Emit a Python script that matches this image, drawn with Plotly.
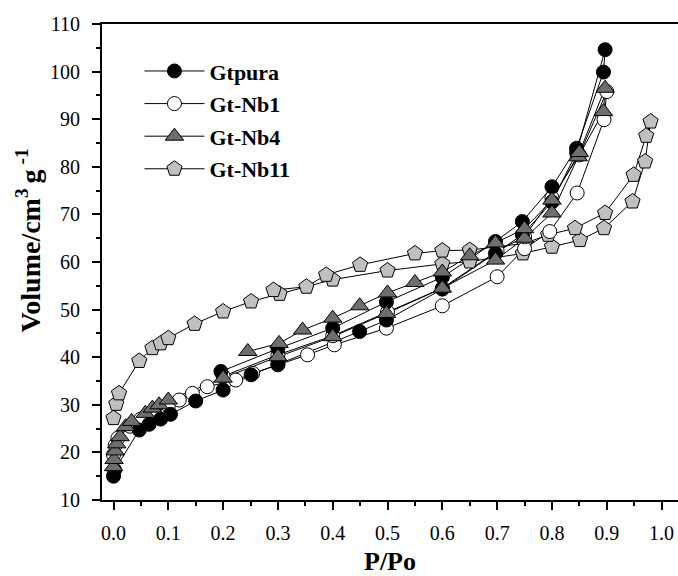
import plotly.graph_objects as go

# ---------------- data ----------------
names = ["Gtpura", "Gt-Nb1", "Gt-Nb4", "Gt-Nb11"]

gtpura_x = [0.0, 0.002, 0.047, 0.065, 0.086, 0.104, 0.15, 0.2, 0.251, 0.3, 0.449, 0.498, 0.6, 0.697, 0.746, 0.8, 0.845, 0.897,
            0.894, 0.845, 0.8, 0.746, 0.697, 0.6, 0.498, 0.4, 0.3, 0.196]
gtpura_y = [15.0, 16.3, 24.7, 25.9, 27.0, 28.0, 30.8, 33.1, 36.3, 38.5, 45.4, 47.8, 54.3, 61.8, 65.7, 72.6, 83.0, 104.6,
            99.9, 83.9, 75.8, 68.5, 64.3, 56.8, 51.6, 46.1, 41.8, 37.0]

nb1_x = [0.0, 0.003, 0.008, 0.03, 0.05, 0.075, 0.1, 0.12, 0.144, 0.171, 0.223, 0.254, 0.3, 0.354, 0.403, 0.498, 0.6, 0.7, 0.75, 0.796, 0.846, 0.895,
         0.9, 0.85, 0.8, 0.75, 0.7, 0.6, 0.5, 0.4, 0.3, 0.2]
nb1_y = [19.5, 21.5, 23.0, 25.5, 27.0, 28.3, 29.8, 31.0, 32.4, 33.8, 35.2, 36.6, 38.4, 40.5, 42.6, 46.1, 50.8, 56.9, 62.8, 66.4, 74.5, 89.9,
         95.8, 82.5, 73.5, 65.3, 62.3, 54.5, 49.5, 44.5, 40.5, 36.0]

nb4_x = [0.0, 0.001, 0.003, 0.006, 0.012, 0.022, 0.033, 0.058, 0.071, 0.083, 0.1, 0.2, 0.3, 0.4, 0.498, 0.6, 0.697, 0.75, 0.8, 0.848, 0.894,
         0.897, 0.85, 0.8, 0.75, 0.697, 0.65, 0.6, 0.55, 0.5, 0.449, 0.4, 0.345, 0.302, 0.245]
nb4_y = [17.0, 18.5, 20.3, 21.8, 23.3, 25.4, 26.5, 28.2, 29.3, 30.0, 31.0, 35.6, 40.1, 44.3, 49.2, 54.5, 60.4, 65.0, 70.3, 82.1, 91.6,
         96.5, 83.0, 73.0, 67.0, 64.0, 61.3, 57.9, 55.7, 53.5, 50.8, 48.2, 45.7, 42.9, 41.2]

nb11_x = [0.0, 0.005, 0.01, 0.047, 0.071, 0.086, 0.1, 0.148, 0.2, 0.251, 0.303, 0.4, 0.5, 0.6, 0.65, 0.747, 0.8, 0.851, 0.895, 0.947, 0.97, 0.98,
          0.972, 0.949, 0.897, 0.842, 0.793, 0.75, 0.65, 0.6, 0.55, 0.45, 0.388, 0.352, 0.292]
nb11_y = [27.2, 30.2, 32.4, 39.2, 41.9, 42.9, 44.0, 47.0, 49.6, 51.7, 53.3, 56.3, 58.2, 59.6, 60.1, 61.8, 63.2, 64.6, 67.1, 72.7, 81.1, 89.5,
          86.5, 78.3, 70.3, 67.1, 65.7, 63.9, 62.5, 62.4, 61.8, 59.4, 57.3, 54.8, 54.1]

x_ticks = [0.0, 0.1, 0.2, 0.3, 0.4, 0.5, 0.6, 0.7, 0.8, 0.9, 1.0]
x_tick_text = ["0.0", "0.1", "0.2", "0.3", "0.4", "0.5", "0.6", "0.7", "0.8", "0.9", "1.0"]
y_ticks = [10, 20, 30, 40, 50, 60, 70, 80, 90, 100, 110]

# ---------------- styles ----------------
series = {
    "Gtpura": dict(x=gtpura_x, y=gtpura_y, symbol="circle", fill="#000000", size=14, rank=1),
    "Gt-Nb1": dict(x=nb1_x, y=nb1_y, symbol="circle", fill="#ffffff", size=14, rank=2),
    "Gt-Nb4": dict(x=nb4_x, y=nb4_y, symbol="triangle-up", fill="#6e6e6e", size=16, rank=3),
    "Gt-Nb11": dict(x=nb11_x, y=nb11_y, symbol="pentagon", fill="#c0c0c0", size=16, rank=4),
}
draw_order = ["Gt-Nb11", "Gt-Nb1", "Gtpura", "Gt-Nb4"]

FONT = "Liberation Serif"
fig = go.Figure()

# lines first
for n in draw_order:
    s = series[n]
    fig.add_trace(go.Scatter(x=s["x"], y=s["y"], mode="lines",
                             line=dict(color="black", width=1),
                             showlegend=False, hoverinfo="skip"))
# markers
for n in draw_order:
    s = series[n]
    fig.add_trace(go.Scatter(x=s["x"], y=s["y"], mode="markers",
                             marker=dict(symbol=s["symbol"], size=s["size"], color=s["fill"],
                                         line=dict(color="black", width=1)),
                             showlegend=False, name=n))
# legend entries
for n in names:
    s = series[n]
    fig.add_trace(go.Scatter(x=[None], y=[None], mode="lines+markers", name="<b>" + n + "</b>",
                             legendgroup=n, legendrank=s["rank"],
                             line=dict(color="black", width=1),
                             marker=dict(symbol=s["symbol"], size=s["size"], color=s["fill"],
                                         line=dict(color="black", width=1))))

axis_common = dict(
    showline=True, linecolor="black", linewidth=2,
    ticks="outside", ticklen=8, tickwidth=1.5, tickcolor="black",
    showgrid=False, zeroline=False,
    tickfont=dict(family=FONT, size=20, color="black"),
)

fig.update_xaxes(
    range=[-0.021, 1.03], tickvals=x_ticks, ticktext=x_tick_text,
    minor=dict(ticks="outside", ticklen=4, tickwidth=1.5, tickcolor="black", dtick=0.05, tick0=0),
    mirror=True, ticklabelstandoff=6,
    title=dict(text="<b>P/Po</b>", font=dict(family=FONT, size=26, color="black"), standoff=14),
    **axis_common,
)
fig.update_yaxes(
    range=[10, 110], tickvals=y_ticks,
    minor=dict(ticks="outside", ticklen=4, tickwidth=1.5, tickcolor="black", dtick=5, tick0=0),
    ticklabelstandoff=8,
    **axis_common,
)

fig.add_annotation(
    text="<b>Volume/cm<sup>3 </sup>g<sup> -1</sup></b>",
    textangle=-90, xref="paper", yref="paper",
    x=-0.128, y=0.546, xanchor="center", yanchor="middle", showarrow=False,
    font=dict(family=FONT, size=28, color="black"),
)

fig.update_layout(
    width=678, height=576,
    margin=dict(l=102, r=0, t=24, b=76),
    paper_bgcolor="white", plot_bgcolor="white",
    legend=dict(x=0.065, y=0.945, xanchor="left", yanchor="top",
                bgcolor="rgba(0,0,0,0)", traceorder="grouped", tracegroupgap=1,
                itemwidth=60,
                font=dict(family=FONT, size=22, color="black")),
    font=dict(family=FONT, color="black"),
)

fig.write_html("out.html")
